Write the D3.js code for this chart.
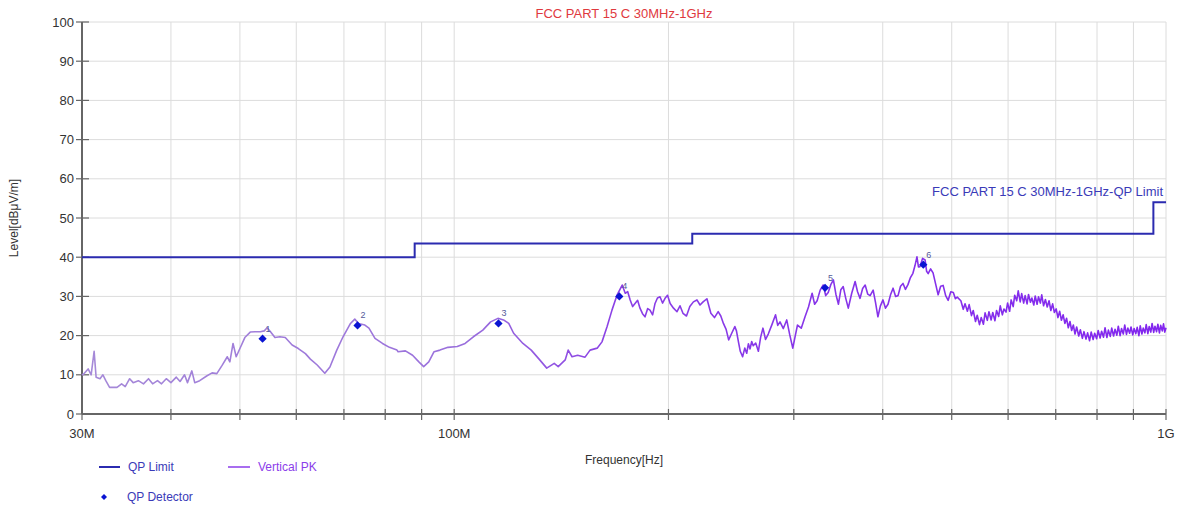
<!DOCTYPE html>
<html>
<head>
<meta charset="utf-8">
<script src="https://cdn.jsdelivr.net/npm/d3@7"></script>
<style>
  body { margin: 0; background: #fff; }
  text { font-family: "Liberation Sans", Arial, sans-serif; }
</style>
</head>
<body>
<svg width="1180" height="508"></svg>
<script>
// limit line (step), MHz / dBuV/m
var limitFreq = [30, 88, 88, 216, 216, 960, 960, 1000];
var limitLevel = [40, 40, 43.5, 43.5, 46, 46, 54, 54];

// quasi-peak detector results
var qpFreq = [53.8, 73.15, 115.4, 170.6, 331.9, 456.1];
var qpLevel = [19.2, 22.6, 23.1, 30.0, 32.2, 38.1];
var qpLabel = ["1", "2", "3", "4", "5", "6"];

var yTicks = [0, 10, 20, 30, 40, 50, 60, 70, 80, 90, 100];
var xLabels = [[30, "30M"], [100, "100M"], [1000, "1G"]];

// vertical peak scan [MHz, dBuV/m]
var pkTrace = [
  [30.0, 10.2], [30.1, 10], [30.6, 11.5], [30.9, 10], [31.2, 16], [31.4, 9.4], [31.8, 9], [32.1, 10],
  [32.4, 8.5], [32.8, 6.8], [33.6, 6.8], [34.1, 7.7], [34.5, 7], [35.0, 9], [35.4, 8], [36.0, 8.5],
  [36.6, 7.7], [37.2, 9], [37.7, 7.7], [38.3, 8.5], [38.8, 7.7], [39.4, 9], [40.0, 8], [40.7, 9.4],
  [41.2, 8.3], [41.8, 10], [42.2, 8], [42.8, 11], [43.2, 8], [43.9, 8.5], [44.9, 9.7], [45.7, 10.5],
  [46.4, 10.3], [47.2, 12.4], [48.0, 14.6], [48.4, 13.3], [48.9, 18], [49.4, 14.6], [50.0, 16.7],
  [50.8, 19.5], [51.7, 20.9], [52.5, 21], [53.4, 21], [54.1, 21.2], [54.6, 22], [55.2, 21],
  [56.0, 19.5], [56.9, 19.7], [57.9, 19.5], [59.2, 17.6], [60.4, 16.7], [61.8, 15.4], [62.8, 14],
  [64.2, 12.5], [65.8, 10.4], [66.9, 12], [68.4, 16.3], [69.8, 19.7], [71.5, 23.1], [72.5, 24.2],
  [73.4, 23.1], [74.9, 22.7], [75.9, 21.9], [77.4, 19.3], [79.3, 18], [81.1, 17], [83.1, 16.3],
  [83.4, 15.9], [85.4, 16.1], [87.4, 15], [89.2, 13.3], [90.6, 12.1], [92.1, 13.3], [93.7, 15.9],
  [95.5, 16.3], [98.0, 17], [101.0, 17.2], [103.6, 18], [106.4, 19.7], [109.7, 21.4], [112.5, 23.5],
  [115.2, 24.4], [117.3, 24], [119.3, 23.1], [121.2, 20.6], [124.9, 18], [128.3, 16.3], [131.6, 14],
  [134.9, 11.7], [138.2, 12.9], [140.0, 12.1], [143.2, 13.8], [144.6, 16.3], [146.4, 14.6],
  [149.1, 15], [152.7, 14.5], [155.2, 16.3], [158.8, 16.8], [161.3, 18.4], [164.0, 22.3],
  [166.6, 26.5], [169.4, 30.4], [172.2, 32.9], [173.9, 30.8], [175.3, 31.2], [176.7, 29.1],
  [178.1, 27.4], [179.5, 28.2], [181.0, 29.0], [182.4, 27], [183.9, 25.6], [185.4, 24.8],
  [187.0, 26.9], [188.4, 26.5], [190.0, 25.3], [191.5, 28.2], [193.0, 29.6], [194.6, 29.9],
  [196.2, 28.3], [197.8, 29.5], [199.4, 30.3], [201.1, 28.2], [203.3, 27.0], [205.6, 26.1],
  [207.6, 27.6], [209.6, 25.7], [212.0, 25.0], [214.3, 27.4], [216.8, 28.6], [219.3, 29.1],
  [221.5, 27.8], [223.7, 28.6], [226.5, 29.4], [229.4, 25.7], [232.1, 24.6], [234.9, 26.1],
  [236.9, 25.0], [238.9, 23.1], [241.0, 21.6], [243.0, 18.9], [245.4, 20.6], [247.9, 22.3],
  [249.2, 21.2], [250.5, 18.9], [252.3, 16.0], [254.2, 14.6], [256.0, 16.8], [257.6, 15.5],
  [259.0, 17.9], [260.4, 16.6], [261.8, 18.5], [263.1, 17.4], [265.2, 18.1], [267.5, 16.0],
  [269.5, 19.6], [271.5, 21.9], [273.8, 19.0], [276.2, 20.4], [279.5, 22.8], [282.8, 25.3],
  [284.8, 22.6], [286.9, 23.5], [290.0, 21.8], [293.2, 24.0], [296.0, 20.3], [299.0, 16.8],
  [301.3, 19.8], [303.6, 22.7], [307.3, 21.9], [311.1, 24.8], [314.6, 27.3], [318.3, 30.8],
  [320.9, 28.0], [323.5, 28.9], [326.7, 31.6], [329.9, 32.9], [332.6, 30.2], [335.3, 31.0],
  [338.1, 33.0], [341.0, 34.2], [343.8, 30.5], [346.6, 28.0], [349.3, 31.7], [352.0, 32.5],
  [354.9, 29.5], [357.8, 27.0], [361.8, 30.8], [365.8, 33.8], [368.7, 31.2], [371.7, 29.5],
  [374.8, 32.0], [377.9, 32.9], [381.0, 30.6], [384.0, 30.2], [387.8, 31.6], [390.8, 28.4],
  [393.8, 24.8], [397.0, 27.6], [400.3, 29.1], [403.6, 27.0], [406.9, 28.0], [410.2, 30.4],
  [413.6, 32.1], [417.0, 30.0], [420.3, 30.2], [423.7, 32.6], [427.1, 33.3], [430.5, 31.8],
  [434.0, 33.0], [437.5, 34.8], [441.0, 35.9], [443.9, 37.8], [446.8, 40.1], [449.0, 37.5],
  [451.3, 37.6], [455.0, 39.7], [458.7, 39.3], [461.0, 36.4], [463.3, 35.8], [467.0, 37.0],
  [470.7, 36.0], [474.6, 33.2], [478.5, 30.4], [482.4, 32.6], [486.3, 32.8], [490.3, 30.2],
  [494.3, 29.0], [498.5, 31.2], [502.6, 31.0], [506.0, 29.4], [509.0, 29.8],
  [515, 28.9], [519, 26.7], [522, 28.1], [526, 26.2], [529, 27.9], [533, 25.1], [536, 26.4],
  [540, 23.6], [543, 25.2], [547, 22.8], [550, 24.6], [554, 22.9], [557, 25.8], [561, 23.9],
  [564, 26.1], [568, 24.0], [571, 25.9], [575, 23.8], [578, 26.4], [582, 24.9], [585, 27.6],
  [589, 25.3], [592, 26.8], [596, 26.0], [599, 28.3], [603, 26.2], [606, 29.1], [610, 27.4],
  [613, 30.3], [617, 28.9], [620, 31.4], [624, 28.6], [627, 30.7], [631, 28.3], [634, 30.2],
  [638, 28.1], [641, 30.5], [645, 28.5], [648, 29.6], [652, 27.8], [655, 30.1], [659, 28.0],
  [662, 29.9], [666, 28.3], [669, 30.4], [673, 27.6], [677, 29.2], [681, 27.3], [685, 28.9],
  [689, 26.4], [693, 28.1], [697, 25.9], [701, 26.8], [705, 24.6], [709, 26.2], [713, 23.9],
  [717, 25.3], [721, 23.1], [725, 24.4], [729, 22.0], [733, 23.6], [737, 21.3], [741, 22.7],
  [745, 20.4], [749, 22.2], [754, 19.9], [758, 21.5], [763, 19.3], [767, 21.0], [772, 19.1],
  [776, 20.7], [781, 18.7], [785, 20.9], [790, 19.0], [794, 20.6], [799, 19.2], [803, 21.3],
  [808, 19.4], [812, 21.1], [817, 19.6], [821, 22.0], [826, 19.5], [830, 21.4], [835, 19.8],
  [839, 21.9], [844, 19.9], [848, 21.6], [853, 20.1], [857, 22.4], [862, 20.0], [866, 21.8],
  [871, 20.4], [875, 22.7], [880, 20.3], [884, 21.9], [889, 20.6], [893, 22.2], [898, 20.2],
  [902, 21.8], [907, 20.5], [911, 22.1], [916, 20.0], [920, 22.5], [925, 20.4], [929, 21.9],
  [934, 20.7], [938, 22.8], [943, 20.5], [947, 22.3], [952, 20.9], [956, 23.1], [961, 20.8],
  [965, 22.4], [970, 21.0], [974, 22.9], [979, 20.7], [983, 22.6], [988, 21.2], [992, 23.0],
  [996, 20.9], [1000, 22.0]
];

(function() {
  var svg = d3.select('svg');

  var x = d3.scaleLog().domain([30, 1000]).range([82, 1166]);
  var y = d3.scaleLinear().domain([0, 100]).range([414, 22]);

  // trace colour goes from light lavender (sparse part) to strong violet (dense part)
  var grad = svg.append('defs').append('linearGradient')
    .attr('id', 'pkGrad')
    .attr('gradientUnits', 'userSpaceOnUse')
    .attr('x1', x(30)).attr('x2', x(1000)).attr('y1', 0).attr('y2', 0);
  grad.append('stop').attr('offset', '0%').attr('stop-color', '#a68ad8');
  grad.append('stop').attr('offset', '35%').attr('stop-color', '#9a70dc');
  grad.append('stop').attr('offset', '50%').attr('stop-color', '#8a3ee6');
  grad.append('stop').attr('offset', '100%').attr('stop-color', '#8226ee');

  var grid = svg.append('g').attr('stroke', '#dcdcdc').attr('stroke-width', 1);
  grid.selectAll('.gx').data(x.ticks()).enter().append('line')
    .attr('x1', function(d) { return x(d); })
    .attr('x2', function(d) { return x(d); })
    .attr('y1', y(0)).attr('y2', y(100));
  grid.selectAll('.gy').data(yTicks).enter().append('line')
    .attr('x1', x(30)).attr('x2', x(1000))
    .attr('y1', function(d) { return y(d); })
    .attr('y2', function(d) { return y(d); });

  // axes
  var ax = svg.append('g').attr('stroke', '#666');
  ax.append('line').attr('x1', x(30)).attr('x2', x(30)).attr('y1', y(100)).attr('y2', y(0)).attr('stroke-width', 2);
  ax.append('line').attr('x1', x(30)).attr('x2', x(1000)).attr('y1', y(0)).attr('y2', y(0)).attr('stroke-width', 2);
  ax.selectAll('.ty').data(yTicks).enter().append('line')
    .attr('x1', x(30) - 6).attr('x2', x(30) + 7)
    .attr('y1', function(d) { return y(d); })
    .attr('y2', function(d) { return y(d); })
    .attr('stroke-width', 1.2);
  ax.selectAll('.tx').data(x.ticks()).enter().append('line')
    .attr('x1', function(d) { return x(d); })
    .attr('x2', function(d) { return x(d); })
    .attr('y1', y(0) - 5).attr('y2', y(0) + 6)
    .attr('stroke-width', 1.2);

  svg.selectAll('.ly').data(yTicks).enter().append('text')
    .attr('x', x(30) - 8)
    .attr('y', function(d) { return y(d) + 4.5; })
    .attr('text-anchor', 'end')
    .attr('font-size', 13).attr('fill', '#333')
    .text(function(d) { return d; });

  svg.selectAll('.lx').data(xLabels).enter().append('text')
    .attr('x', function(d) { return x(d[0]); })
    .attr('y', 438)
    .attr('text-anchor', 'middle')
    .attr('font-size', 13).attr('fill', '#333')
    .text(function(d) { return d[1]; });

  svg.append('text').attr('x', 624).attr('y', 464).attr('text-anchor', 'middle')
    .attr('font-size', 12).attr('fill', '#333').text('Frequency[Hz]');
  svg.append('text').attr('transform', 'translate(18,218) rotate(-90)').attr('text-anchor', 'middle')
    .attr('font-size', 12).attr('fill', '#333').text('Level[dBμV/m]');

  svg.append('text').attr('x', 624).attr('y', 18).attr('text-anchor', 'middle')
    .attr('font-size', 13).attr('fill', '#e0393e').text('FCC PART 15 C 30MHz-1GHz');

  // traces
  var line = d3.line()
    .x(function(d) { return x(d[0]); })
    .y(function(d) { return y(d[1]); });

  svg.append('path').datum(pkTrace)
    .attr('d', line)
    .attr('fill', 'none')
    .attr('stroke', 'url(#pkGrad)')
    .attr('stroke-width', 1.6)
    .attr('stroke-linejoin', 'round');

  var limit = limitFreq.map(function(f, i) { return [f, limitLevel[i]]; });
  svg.append('path').datum(limit)
    .attr('d', line)
    .attr('fill', 'none')
    .attr('stroke', '#2b2bb0')
    .attr('stroke-width', 2);

  svg.append('text').attr('x', 1163).attr('y', 196).attr('text-anchor', 'end')
    .attr('font-size', 13).attr('fill', '#3a3ab8').text('FCC PART 15 C 30MHz-1GHz-QP Limit');

  // qp markers
  var diamond = d3.symbol().type(d3.symbolSquare).size(34);
  var qp = qpFreq.map(function(f, i) { return { f: f, v: qpLevel[i], n: qpLabel[i] }; });
  svg.selectAll('.qp').data(qp).enter().append('path')
    .attr('d', diamond)
    .attr('transform', function(d) { return 'translate(' + x(d.f) + ',' + y(d.v) + ') rotate(45)'; })
    .attr('fill', '#0a14d2');
  svg.selectAll('.qpl').data(qp).enter().append('text')
    .attr('x', function(d) { return x(d.f) + 3; })
    .attr('y', function(d) { return y(d.v) - 7; })
    .attr('font-size', 9).attr('fill', '#555a9a')
    .text(function(d) { return d.n; });

  // legend
  var lg = svg.append('g').attr('font-size', 12);
  lg.append('line').attr('x1', 99).attr('x2', 120).attr('y1', 467).attr('y2', 467).attr('stroke', '#2b2bb0').attr('stroke-width', 2);
  lg.append('text').attr('x', 128).attr('y', 471).attr('fill', '#3a3ab8').text('QP Limit');
  lg.append('line').attr('x1', 228).attr('x2', 250).attr('y1', 467).attr('y2', 467).attr('stroke', '#8b3dea').attr('stroke-width', 1.5);
  lg.append('text').attr('x', 258).attr('y', 471).attr('fill', '#8b3dea').text('Vertical PK');
  lg.append('path').attr('d', d3.symbol().type(d3.symbolSquare).size(18))
    .attr('transform', 'translate(104,497) rotate(45)').attr('fill', '#0a14d2');
  lg.append('text').attr('x', 127).attr('y', 501).attr('fill', '#3a3ab8').text('QP Detector');
})();
</script>
</body>
</html>
